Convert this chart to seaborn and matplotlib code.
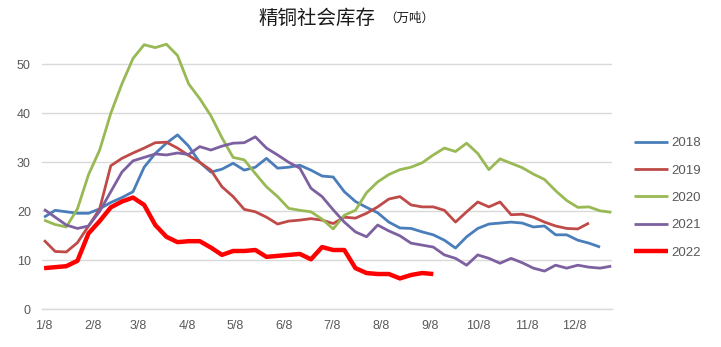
import numpy as np
import pandas as pd
import matplotlib
matplotlib.use("Agg")
import matplotlib.pyplot as plt
import seaborn as sns

# ---- data (weekly, starting 1/8) ----
months = ["1/8", "2/8", "3/8", "4/8", "5/8", "6/8", "7/8", "8/8", "9/8", "10/8", "11/8", "12/8"]
month_days = [0, 31, 59, 90, 120, 151, 181, 212, 243, 273, 304, 334]  # days after Jan 8

y2018 = [18.8, 20.2, 19.9, 19.6, 19.6, 20.5, 21.8, 22.8, 24.0, 29.0, 31.8, 33.9, 35.6, 33.3, 30.0,
         28.0, 28.6, 29.8, 28.4, 29.0, 30.8, 28.8, 29.0, 29.4, 28.4, 27.2, 27.0, 24.0, 22.0, 20.8,
         19.7, 17.8, 16.6, 16.5, 15.8, 15.2, 14.1, 12.5, 14.8, 16.5, 17.4, 17.6, 17.8, 17.6, 16.8,
         17.0, 15.2, 15.2, 14.1, 13.5, 12.7]
y2019 = [14.1, 11.8, 11.7, 13.6, 17.0, 20.5, 29.3, 30.8, 31.9, 32.9, 34.0, 34.1, 32.9, 31.4, 30.0,
         28.4, 25.0, 23.0, 20.4, 19.9, 18.8, 17.4, 18.0, 18.2, 18.5, 18.2, 17.5, 18.8, 18.6, 19.6,
         20.9, 22.5, 23.0, 21.3, 20.9, 20.9, 20.2, 17.8, 19.9, 21.9, 20.9, 21.9, 19.3, 19.4, 18.8,
         17.8, 17.0, 16.5, 16.4, 17.6]
y2020 = [18.2, 17.3, 16.8, 20.5, 27.5, 32.5, 40.0, 46.0, 51.2, 54.0, 53.4, 54.1, 51.8, 46.0, 43.0,
         39.5, 35.0, 31.0, 30.5, 27.7, 25.0, 23.0, 20.6, 20.2, 19.9, 18.4, 16.4, 19.2, 20.2, 23.8,
         26.0, 27.5, 28.5, 29.0, 29.9, 31.5, 32.9, 32.2, 33.9, 31.8, 28.5, 30.7, 29.8, 28.9, 27.6,
         26.5, 24.2, 22.2, 20.8, 20.9, 20.1, 19.8]
y2021 = [20.4, 18.8, 17.2, 16.5, 17.0, 20.0, 24.0, 28.0, 30.3, 31.0, 31.7, 31.5, 31.9, 31.6, 33.2,
         32.5, 33.3, 33.9, 34.0, 35.2, 32.9, 31.5, 30.0, 28.8, 24.7, 23.0, 20.3, 17.8, 15.8, 14.8,
         17.2, 16.0, 15.0, 13.5, 13.1, 12.7, 11.1, 10.4, 9.0, 11.1, 10.4, 9.4, 10.4, 9.5, 8.4,
         7.8, 9.0, 8.4, 9.0, 8.6, 8.4, 8.8]
y2022 = [8.4, 8.6, 8.8, 9.9, 15.5, 18.0, 20.8, 22.0, 22.8, 21.3, 17.2, 14.8, 13.7, 13.9, 13.9,
         12.6, 11.1, 11.9, 11.9, 12.1, 10.7, 10.9, 11.1, 11.3, 10.2, 12.7, 12.1, 12.1, 8.4, 7.4,
         7.2, 7.2, 6.3, 7.0, 7.4, 7.2]

years = ["2018", "2019", "2020", "2021", "2022"]
series = [y2018, y2019, y2020, y2021, y2022]
colors = ["#4A7EBB", "#BE4B48", "#98B954", "#7D60A0", "#FF0000"]
widths = [2.0, 2.0, 2.0, 2.0, 3.2]

frames = []
for yr, vals in zip(years, series):
    frames.append(pd.DataFrame({"day": np.arange(len(vals)) * 7, "value": vals, "year": yr}))
df = pd.concat(frames, ignore_index=True)

sns.set_theme(style="white")
plt.rcParams["font.family"] = ["Liberation Sans", "Noto Sans CJK SC", "DejaVu Sans"]

fig = plt.figure(figsize=(7.21, 3.47), dpi=100)
ax = fig.add_axes([42 / 721, 1 - 309.3 / 347, (612 - 42) / 721, (309.3 - 39.8) / 347])

for yr, c, w in zip(years, colors, widths):
    sns.lineplot(data=df[df["year"] == yr], x="day", y="value", color=c, linewidth=w,
                 label=yr, ax=ax, solid_joinstyle="round", solid_capstyle="butt")

ax.set_xlim(-1.3, 357.5)
ax.set_ylim(0, 55)
ax.set_yticks([0, 10, 20, 30, 40, 50])
ax.set_xticks(month_days)
ax.set_xticklabels(months)
ax.grid(axis="y", color="#D9D9D9", linewidth=1.0)
ax.grid(axis="x", visible=False)
for s in ["top", "right", "left"]:
    ax.spines[s].set_visible(False)
ax.spines["bottom"].set_color("#D9D9D9")
ax.spines["bottom"].set_linewidth(1.0)
ax.tick_params(axis="both", length=0, labelsize=9, colors="#595959")
ax.tick_params(axis="x", pad=8)
ax.tick_params(axis="y", pad=8)
ax.set_xlabel("")
ax.set_ylabel("")

leg = ax.legend(loc="upper left", bbox_to_anchor=(634 / 721, 1 - 137 / 347),
                bbox_transform=fig.transFigure, frameon=False, fontsize=9.5,
                handlelength=2.6, handletextpad=0.2, labelspacing=1.15,
                borderpad=0, borderaxespad=0)
for t in leg.get_texts():
    t.set_color("#595959")

fig.text(258 / 721, 1 - 18 / 347, "精铜社会库存", fontsize=14,
         family=["Noto Sans CJK SC", "DejaVu Sans"], color="#1A1A1A", ha="left", va="center")
fig.text(384 / 721, 1 - 18 / 347, "（万吨）", fontsize=9,
         family=["Noto Sans CJK SC", "DejaVu Sans"], color="#1A1A1A", ha="left", va="center")

fig.savefig("out.png", dpi=100)
